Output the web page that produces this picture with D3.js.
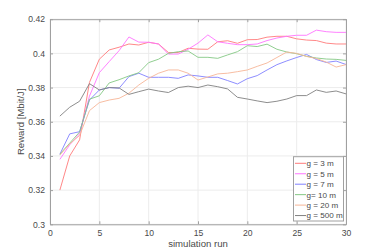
<!DOCTYPE html>
<html><head><meta charset="utf-8">
<script src="https://cdn.jsdelivr.net/npm/d3@7"></script>
<style>body{margin:0;background:#fff}svg{display:block;font-family:"Liberation Sans",Arial,sans-serif}</style>
</head><body><svg id="c" width="383" height="252"></svg>
<script>
const runs = d3.range(1, 31);
const seriesNames = ["g = 3 m", "g = 5 m", "g = 7 m", "g= 10 m", "g = 20 m", "g = 500 m"];
const g3 = [0.320,0.340,0.3494,0.383,0.3966,0.402,0.4036,0.4055,0.4049,0.4065,0.4055,0.4005,0.4005,0.403,0.4025,0.4024,0.4068,0.4074,0.4059,0.4080,0.4081,0.4095,0.4100,0.4100,0.4085,0.4078,0.4075,0.4060,0.4055,0.4055];
const g5 = [0.338,0.3465,0.353,0.375,0.3887,0.3952,0.4016,0.4096,0.4066,0.4065,0.4055,0.3996,0.3996,0.4024,0.4060,0.4108,0.4068,0.4059,0.4051,0.4051,0.4055,0.4075,0.4090,0.4100,0.4106,0.4106,0.4136,0.4127,0.4123,0.4123];
const g7 = [0.341,0.3529,0.3542,0.3727,0.3786,0.3800,0.3796,0.3864,0.3884,0.3860,0.3860,0.3860,0.3854,0.3874,0.3868,0.3860,0.3860,0.3841,0.3821,0.3852,0.3870,0.3903,0.3934,0.3956,0.3976,0.3994,0.3964,0.3947,0.3955,0.3935];
const g10 = [0.341,0.3475,0.354,0.3732,0.3752,0.3827,0.3846,0.3868,0.3887,0.3946,0.3966,0.4000,0.4010,0.4014,0.3977,0.3977,0.3971,0.3991,0.4010,0.4045,0.4040,0.4054,0.4024,0.4008,0.3998,0.3983,0.3973,0.3967,0.3965,0.3959];
const g20 = [0.3405,0.347,0.352,0.3665,0.3712,0.3727,0.3737,0.3767,0.3815,0.3854,0.3884,0.3903,0.3903,0.3884,0.3844,0.3862,0.3880,0.3884,0.3893,0.3903,0.3924,0.3944,0.3976,0.4008,0.4000,0.3982,0.3970,0.3949,0.3920,0.3934];
const g500 = [0.3633,0.3685,0.372,0.3823,0.3786,0.3800,0.3798,0.3760,0.3776,0.3791,0.3780,0.3771,0.3800,0.3808,0.3800,0.3815,0.3805,0.3792,0.3743,0.3733,0.3722,0.3712,0.3720,0.3733,0.3753,0.3753,0.3786,0.3772,0.3780,0.3763];
const xTicks = [0, 5, 10, 15, 20, 25, 30];
const yTicks = [0.3, 0.32, 0.34, 0.36, 0.38, 0.4, 0.42];
const yTickLabels = ["0.3", "0.32", "0.34", "0.36", "0.38", "0.4", "0.42"];
const xLabel = "simulation run";
const yLabel = "Reward [Mbit/J]";
const colors = ["#ff7a7a", "#ff74ff", "#8080ff", "#84c884", "#f6b597", "#808080"];
const allSeries = [g3, g5, g7, g10, g20, g500];

const svg = d3.select("#c");
const L = 50, R = 346, T = 19.2, B = 224.3;
const x = d3.scaleLinear().domain([0, 30]).range([L, R]);
const y = d3.scaleLinear().domain([0.3, 0.42]).range([B, T]);

// grid
svg.append("g").selectAll("line").data(xTicks).join("line")
  .attr("x1", d => x(d)).attr("x2", d => x(d)).attr("y1", T).attr("y2", B)
  .attr("stroke", "#ececec").attr("stroke-width", 1);
svg.append("g").selectAll("line").data(yTicks).join("line")
  .attr("x1", L).attr("x2", R).attr("y1", d => y(d)).attr("y2", d => y(d))
  .attr("stroke", "#ececec").attr("stroke-width", 1);

// lines
const line = d3.line().x((d, i) => x(runs[i])).y(d => y(d));
allSeries.forEach((s, k) => {
  svg.append("path").datum(s).attr("d", line).attr("fill", "none")
    .attr("stroke", colors[k]).attr("stroke-width", 0.9);
});

// axes
const axCol = "#a0a0a0", txtCol = "#4a4a4a";
const xAx = svg.append("g").attr("transform", `translate(0,${B})`)
  .call(d3.axisBottom(x).tickValues(xTicks).tickSizeInner(-3).tickSizeOuter(0).tickPadding(6));
const yAx = svg.append("g").attr("transform", `translate(${L},0)`)
  .call(d3.axisLeft(y).tickValues(yTicks).tickFormat((d, i) => yTickLabels[i]).tickSizeInner(-3).tickSizeOuter(0).tickPadding(5));
const xTop = svg.append("g").attr("transform", `translate(0,${T})`)
  .call(d3.axisTop(x).tickValues(xTicks).tickSizeInner(-3).tickSizeOuter(0).tickFormat(""));
const yRight = svg.append("g").attr("transform", `translate(${R},0)`)
  .call(d3.axisRight(y).tickValues(yTicks).tickSizeInner(-3).tickSizeOuter(0).tickFormat(""));
[xAx, yAx, xTop, yRight].forEach(a => {
  a.selectAll("path").attr("stroke", axCol);
  a.selectAll("line").attr("stroke", axCol);
  a.selectAll("text").attr("fill", txtCol).style("font-size", "8.6px").style("font-family", '"Liberation Sans",Arial,sans-serif');
});

svg.append("text").attr("x", (L + R) / 2).attr("y", 247).attr("text-anchor", "middle")
  .attr("fill", txtCol).style("font-size", "9.6px").text(xLabel);
svg.append("text").attr("transform", `translate(24,${(T + B) / 2}) rotate(-90)`).attr("text-anchor", "middle")
  .attr("fill", txtCol).style("font-size", "9.6px").text(yLabel);

// legend
const lg = svg.append("g");
const lx = 293.5, ly = 156.7, lw = 50, lh = 64.3;
lg.append("rect").attr("x", lx).attr("y", ly).attr("width", lw).attr("height", lh)
  .attr("fill", "#fff").attr("stroke", axCol).attr("stroke-width", 1);
seriesNames.forEach((n, k) => {
  const yy = ly + 6.6 + k * 10.45;
  lg.append("line").attr("x1", lx + 1.5).attr("x2", lx + 12.5).attr("y1", yy).attr("y2", yy)
    .attr("stroke", colors[k]).attr("stroke-width", 1);
  lg.append("text").attr("x", lx + 13).attr("y", yy + 2.9).attr("fill", txtCol)
    .style("font-size", "8.1px").text(n);
});
</script></body></html>
